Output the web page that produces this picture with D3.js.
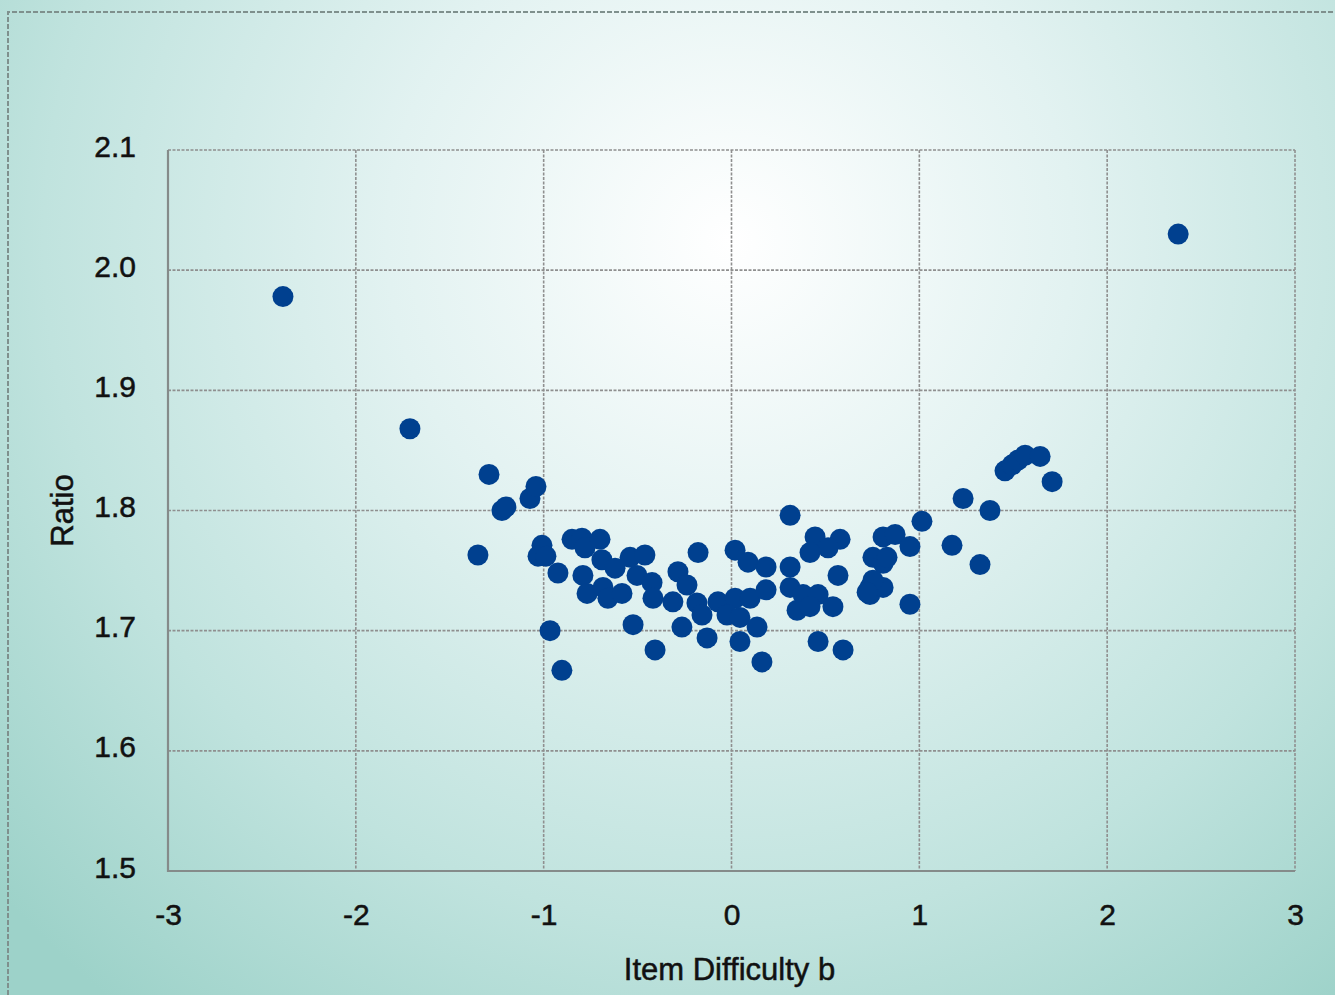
<!DOCTYPE html>
<html><head><meta charset="utf-8">
<script src="https://cdn.jsdelivr.net/npm/d3@7"></script>
<style>html,body{margin:0;padding:0;overflow:hidden;}svg{display:block;}</style>
</head><body>
<script>
const xTicks = [-3, -2, -1, 0, 1, 2, 3];
const yTicks = [1.5, 1.6, 1.7, 1.8, 1.9, 2.0, 2.1];
const xTitle = "Item Difficulty b";
const yTitle = "Ratio";
const difficulty = [
 -2.388,-1.712,-1.291,-1.350,-1.222,-1.201,-1.073,-1.041,-1.009,-1.030,-0.988,-0.924,-0.966,-0.903,
 -0.849,-0.796,-0.780,-0.700,-0.690,-0.791,-0.769,-0.684,-0.658,-0.583,-0.620,-0.540,-0.461,-0.503,
 -0.423,-0.418,-0.312,-0.285,-0.524,-0.407,-0.178,0.019,0.088,0.184,-0.237,-0.184,-0.072,0.019,
 0.099,0.184,-0.264,-0.157,-0.130,-0.024,0.045,0.045,0.136,0.162,0.312,0.445,0.578,0.514,0.418,
 0.312,0.567,0.312,0.381,0.461,0.349,0.418,0.540,0.461,0.594,0.807,0.753,0.807,0.871,0.737,0.737,
 0.807,1.233,1.014,0.950,0.828,0.753,0.722,0.950,1.323,1.376,1.456,1.494,1.526,1.563,1.643,1.707,
 1.174,2.378];
const ratio = [
 1.978,1.868,1.830,1.763,1.800,1.803,1.810,1.820,1.771,1.762,1.762,1.748,1.700,1.667,
 1.776,1.777,1.769,1.776,1.759,1.746,1.731,1.736,1.727,1.731,1.752,1.761,1.763,1.746,
 1.740,1.727,1.724,1.749,1.705,1.684,1.765,1.767,1.757,1.753,1.738,1.723,1.724,1.727,
 1.727,1.734,1.703,1.713,1.694,1.713,1.711,1.691,1.703,1.674,1.796,1.778,1.776,1.769,1.765,
 1.753,1.746,1.736,1.730,1.730,1.717,1.720,1.720,1.691,1.684,1.778,1.761,1.756,1.780,1.736,1.730,
 1.736,1.810,1.791,1.770,1.761,1.742,1.732,1.722,1.755,1.800,1.833,1.838,1.842,1.846,1.845,1.824,
 1.771,2.030];

const W = 1335, H = 995;
const m = {left: 168, right: 1295, top: 150, bottom: 871};
const FONT = "'Liberation Sans', Arial, sans-serif";
const svg = d3.select("body").append("svg").attr("width", W).attr("height", H);
const defs = svg.append("defs");
const grad = defs.append("radialGradient").attr("id", "bg")
  .attr("gradientUnits", "userSpaceOnUse").attr("cx", 730).attr("cy", 240).attr("r", 980);
grad.append("stop").attr("offset", "0").attr("stop-color", "#ffffff");
grad.append("stop").attr("offset", "0.35").attr("stop-color", "#e2f2f1");
grad.append("stop").attr("offset", "0.7").attr("stop-color", "#c0e3de");
grad.append("stop").attr("offset", "1").attr("stop-color", "#9dd2c9");
svg.append("rect").attr("width", W).attr("height", H).attr("fill", "url(#bg)");

// outer dashed frame
svg.append("path").attr("d", `M8,${H} L8,12 L${W},12`)
  .attr("fill", "none").attr("stroke", "#7f908d").attr("stroke-width", 2).attr("stroke-dasharray", "5,2");

const x = d3.scaleLinear().domain([-3, 3]).range([m.left, m.right]);
const y = d3.scaleLinear().domain([1.5, 2.1]).range([m.bottom, m.top]);

const grid = svg.append("g");
grid.selectAll(".gx").data(xTicks.slice(1)).join("line")
  .attr("x1", d => x(d)).attr("x2", d => x(d)).attr("y1", m.top).attr("y2", m.bottom)
  .attr("stroke", "#8f8f8f").attr("stroke-width", 1.6).attr("stroke-dasharray", "3,1.5");
grid.selectAll(".gy").data(yTicks.slice(1)).join("line")
  .attr("x1", m.left).attr("x2", m.right).attr("y1", d => y(d)).attr("y2", d => y(d))
  .attr("stroke", "#8f8f8f").attr("stroke-width", 1.6).attr("stroke-dasharray", "3,1.5");
// solid left & bottom borders
svg.append("path").attr("d", `M${m.left},${m.top} L${m.left},${m.bottom} L${m.right},${m.bottom}`)
  .attr("fill", "none").attr("stroke", "#858b8a").attr("stroke-width", 2.2);

// axes (labels only)
const xAxis = svg.append("g").attr("transform", `translate(0,${m.bottom})`)
  .call(d3.axisBottom(x).tickValues(xTicks).tickSize(0).tickPadding(33).tickFormat(d => String(d)));
const yAxis = svg.append("g").attr("transform", `translate(${m.left},0)`)
  .call(d3.axisLeft(y).tickValues(yTicks).tickSize(0).tickPadding(32).tickFormat(d => d.toFixed(1)));
[xAxis, yAxis].forEach(a => {
  a.select(".domain").remove();
  a.selectAll("text").attr("font-family", FONT)
    .attr("font-size", 30).attr("fill", "#111").attr("stroke", "#111").attr("stroke-width", 0.5);
});
yAxis.selectAll("text").attr("dy", "0.2em");

svg.selectAll(".pt").data(difficulty.map((d, i) => [d, ratio[i]])).join("circle")
  .attr("cx", d => x(d[0])).attr("cy", d => y(d[1])).attr("r", 10.5).attr("fill", "#00408f");

svg.append("text").attr("x", (m.left + m.right) / 2 - 2).attr("y", 980)
  .attr("text-anchor", "middle").attr("font-family", FONT).attr("stroke", "#111").attr("stroke-width", 0.5)
  .attr("font-size", 31).attr("fill", "#111").text(xTitle);
svg.append("text").attr("transform", `translate(73,${(m.top + m.bottom) / 2}) rotate(-90)`)
  .attr("text-anchor", "middle").attr("font-family", FONT).attr("stroke", "#111").attr("stroke-width", 0.5)
  .attr("font-size", 31).attr("fill", "#111").text(yTitle);
</script>
</body></html>
